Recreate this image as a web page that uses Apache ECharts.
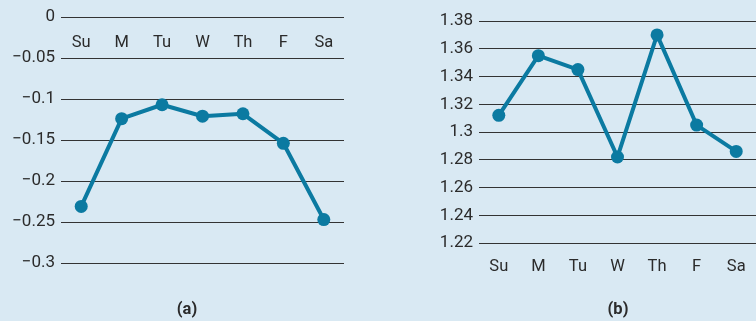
<!DOCTYPE html>
<html>
<head>
<meta charset="utf-8">
<script src="https://cdn.jsdelivr.net/npm/echarts@6/dist/echarts.min.js"></script>
<style>
  html, body { margin: 0; padding: 0; background: #d9e9f3; }
  #chart { width: 756px; height: 321px; }
</style>
</head>
<body>
<div id="chart"></div>
<script>
// Day-of-week categories shared by both panels
const days = ['Su', 'M', 'Tu', 'W', 'Th', 'F', 'Sa'];

// Panel (a): values by day
const seriesA = [-0.231, -0.124, -0.107, -0.121, -0.118, -0.154, -0.247];

// Panel (b): values by day
const seriesB = [1.312, 1.355, 1.345, 1.282, 1.370, 1.305, 1.286];

// Axis ranges
const rangeA = { min: -0.3, max: 0, interval: 0.05 };
const rangeB = { min: 1.22, max: 1.38, interval: 0.02 };

const lineColor = '#0b7aa1';
const gridColor = '#333333';
const textColor = '#2b2b2b';
const fontFamily = 'Roboto, "Liberation Sans", sans-serif';

function fmt(v) {
  const s = parseFloat(v.toFixed(3)).toString();
  return s.replace('-', '\u2212');
}

const chart = echarts.init(document.getElementById('chart'), null, { renderer: 'canvas' });

chart.setOption({
  backgroundColor: '#d9e9f3',
  animation: false,
  title: [
    { text: '(a)', left: 182, top: 296, textAlign: 'center',
      textStyle: { fontFamily, fontSize: 16.5, fontWeight: 'bold', color: textColor } },
    { text: '(b)', left: 613, top: 296, textAlign: 'center',
      textStyle: { fontFamily, fontSize: 16.5, fontWeight: 'bold', color: textColor } }
  ],
  grid: [
    { left: 61, top: 17, width: 283, height: 246 },
    { left: 479, top: 21, width: 284, height: 222 }
  ],
  xAxis: [
    {
      gridIndex: 0, type: 'category', data: days, position: 'top',
      axisLine: { show: false }, axisTick: { show: false },
      axisLabel: { inside: true, margin: 17, color: textColor, fontFamily, fontSize: 16.5 }
    },
    {
      gridIndex: 1, type: 'category', data: days, position: 'bottom',
      axisLine: { show: false }, axisTick: { show: false },
      axisLabel: { margin: 15, color: textColor, fontFamily, fontSize: 16.5 }
    }
  ],
  yAxis: [
    {
      gridIndex: 0, type: 'value', min: rangeA.min, max: rangeA.max, interval: rangeA.interval,
      axisLine: { show: false }, axisTick: { show: false },
      axisLabel: { margin: 6, color: textColor, fontFamily, fontSize: 17, formatter: fmt },
      splitLine: { lineStyle: { color: gridColor, width: 1 } }
    },
    {
      gridIndex: 1, type: 'value', min: rangeB.min, max: rangeB.max, interval: rangeB.interval,
      axisLine: { show: false }, axisTick: { show: false },
      axisLabel: { margin: 6, color: textColor, fontFamily, fontSize: 17, formatter: fmt },
      splitLine: { lineStyle: { color: gridColor, width: 1 } }
    }
  ],
  series: [
    {
      type: 'line', xAxisIndex: 0, yAxisIndex: 0, data: seriesA,
      symbol: 'circle', symbolSize: 13,
      lineStyle: { color: lineColor, width: 4 },
      itemStyle: { color: lineColor }
    },
    {
      type: 'line', xAxisIndex: 1, yAxisIndex: 1, data: seriesB,
      symbol: 'circle', symbolSize: 13,
      lineStyle: { color: lineColor, width: 4 },
      itemStyle: { color: lineColor }
    }
  ]
});
</script>
</body>
</html>
